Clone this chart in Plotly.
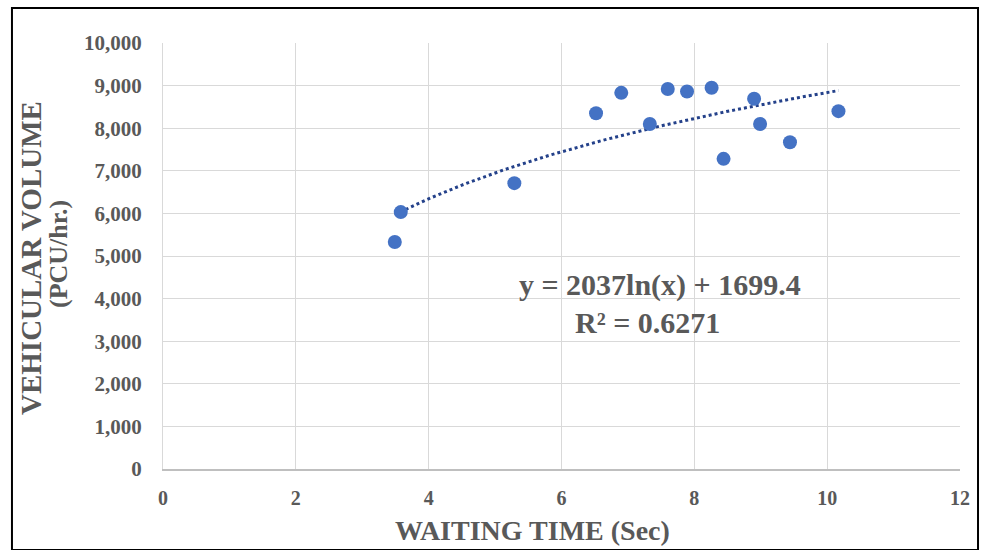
import numpy as np
import plotly.graph_objects as go

waiting_time = [3.49, 3.58, 5.29, 6.52, 6.90, 7.33, 7.60, 7.89, 8.26, 8.44, 8.90, 8.99, 9.44, 10.17]
vehicular_volume = [5330, 6030, 6710, 8350, 8830, 8100, 8920, 8860, 8950, 7280, 8690, 8100, 7670, 8400]
x_ticks = [0, 2, 4, 6, 8, 10, 12]
y_ticks = [0, 1000, 2000, 3000, 4000, 5000, 6000, 7000, 8000, 9000, 10000]
equation_text = "y = 2037ln(x) + 1699.4"
r2_text = "R² = 0.6271"

x = np.array(waiting_time)
y = np.array(vehicular_volume)
b, a = np.polyfit(np.log(x), y, 1)
tx = np.linspace(x.min(), x.max(), 100)
ty = a + b * np.log(tx)

gray = "#595959"
font_fam = "Liberation Serif, Times New Roman, serif"

fig = go.Figure()
fig.add_trace(go.Scatter(x=tx, y=ty, mode="lines",
                         line=dict(color="#24418a", width=3, dash="dot"),
                         hoverinfo="skip", showlegend=False))
fig.add_trace(go.Scatter(x=waiting_time, y=vehicular_volume, mode="markers",
                         marker=dict(color="#4472C4", size=14), showlegend=False))

fig.update_layout(
    width=985, height=550,
    margin=dict(l=163, r=25, t=43, b=81),
    paper_bgcolor="white", plot_bgcolor="white",
    font=dict(family=font_fam, color=gray),
    xaxis=dict(range=[0, 12], tickvals=x_ticks, showgrid=True, gridcolor="#d9d9d9", gridwidth=1,
               zeroline=False, showline=True, linecolor="#bfbfbf", linewidth=2,
               tickfont=dict(size=20, family=font_fam, color=gray, weight="bold"),
               ticks="outside", ticklen=10, tickcolor="rgba(0,0,0,0)"),
    yaxis=dict(range=[0, 10000], tickvals=y_ticks, tickformat=",", showgrid=True, gridcolor="#d9d9d9", gridwidth=1,
               zeroline=False, showline=True, linecolor="#d9d9d9", linewidth=1,
               tickfont=dict(size=21, family=font_fam, color=gray, weight="bold"),
               ticks="outside", ticklen=16, tickcolor="rgba(0,0,0,0)"),
)

def px_x(p):
    return (p - 163) / 797

def px_y(p):
    return (469 - p) / 426

fig.add_annotation(text="<b>WAITING TIME (Sec)</b>", xref="paper", yref="paper",
                   x=px_x(532), y=px_y(530), showarrow=False, xanchor="center", yanchor="middle",
                   font=dict(size=28, family=font_fam, color=gray))
fig.add_annotation(text="<b>VEHICULAR VOLUME</b>", xref="paper", yref="paper",
                   x=px_x(31), y=px_y(258), textangle=-90, showarrow=False,
                   xanchor="center", yanchor="middle",
                   font=dict(size=29, family=font_fam, color=gray))
fig.add_annotation(text="<b>(PCU/hr.)</b>", xref="paper", yref="paper",
                   x=px_x(58), y=px_y(254), textangle=-90, showarrow=False,
                   xanchor="center", yanchor="middle",
                   font=dict(size=26, family=font_fam, color=gray))
fig.add_annotation(text="<b>" + equation_text + "</b>", x=7.48, y=4320,
                   showarrow=False, xanchor="center", yanchor="middle",
                   font=dict(size=30, family=font_fam, color=gray))
fig.add_annotation(text="<b>" + r2_text + "</b>", x=7.29, y=3450,
                   showarrow=False, xanchor="center", yanchor="middle",
                   font=dict(size=30, family=font_fam, color=gray))

fig.add_shape(type="rect", xref="paper", yref="paper", x0=-0.1895, x1=1.0226, y0=-0.19, y1=1.082,
              line=dict(color="black", width=2), fillcolor="rgba(0,0,0,0)")

fig.write_html("out.html", config={"displayModeBar": False},
               post_script="document.body.style.margin='0';document.body.style.overflow='hidden';")
